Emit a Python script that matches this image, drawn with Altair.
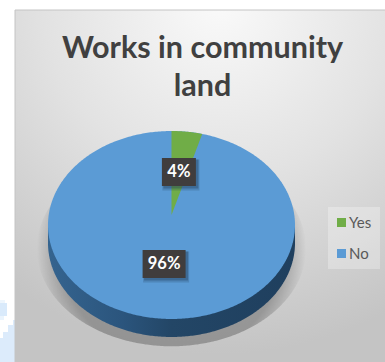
import altair as alt
import numpy as np
import pandas as pd

# Chart values
answers = ["Yes", "No"]
shares = [4, 96]
colors = ["#70ad47", "#5b9bd5"]
title_lines = ["Works in community", "land"]

W, H = 385, 362
# Pie drawn as a unit circle; the two scales squash it into a tilted ellipse.
CX, CY, RX, RY = 171.5, 225.0, 123.5, 94.0
DEPTH = 18 / RY
APEX_V = 10 / RY

x_scale = alt.Scale(domain=[-CX / RX, (W - CX) / RX], range=[0, W], nice=False, zero=False)
y_scale = alt.Scale(domain=[(CY - H) / RY, CY / RY], range=[H, 0], nice=False, zero=False)


def enc_x(field="u"):
    return alt.X(f"{field}:Q", scale=x_scale, axis=None)


def enc_y(field="top"):
    return alt.Y(f"{field}:Q", scale=y_scale, axis=None, stack=None)


t = np.linspace(np.pi, 0, 241)
rim_u = np.cos(t)
rim_v = np.sin(t)

disc = pd.DataFrame({"u": rim_u, "top": rim_v, "bottom": -rim_v, "answer": "No"})
wall = pd.DataFrame({"u": rim_u, "top": 0 * rim_v, "bottom": -rim_v - DEPTH})
halo = pd.DataFrame({
    "u": 1.09 * rim_u,
    "top": -0.25 + 1.04 * rim_v,
    "bottom": -0.25 - 1.04 * rim_v,
})

# The "Yes" slice starts at twelve o'clock and sweeps clockwise by its share.
sweep = shares[0] / sum(shares) * 2 * np.pi
a = np.linspace(0, sweep, 40)
edge_v = APEX_V + (np.cos(sweep) - APEX_V) * (np.sin(a) / np.sin(sweep))
wedge = pd.DataFrame({"u": np.sin(a), "top": np.cos(a), "bottom": edge_v, "answer": "Yes"})

color = alt.Color(
    "answer:N",
    scale=alt.Scale(domain=answers, range=colors),
    legend=alt.Legend(
        title=None, orient="none", legendX=334, legendY=215, padding=0,
        symbolType="square", symbolSize=81,
        symbolStrokeWidth=0, labelFont="Lato", labelFontSize=15, labelColor="#595959",
        labelOffset=0, rowPadding=15, symbolOpacity=1,
    ),
)

one_row = pd.DataFrame({"k": [0]})

panel = alt.Chart(one_row).mark_rect(
    fill=alt.RadialGradient(
        gradient="radial", x1=0.55, y1=0.0, r1=0, x2=0.55, y2=0.0, r2=0.95,
        stops=[
            alt.GradientStop(offset=0, color="#fafafa"),
            alt.GradientStop(offset=0.5, color="#e2e2e2"),
            alt.GradientStop(offset=1, color="#c4c4c4"),
        ],
    ),
    stroke="#c4c4c4",
    strokeWidth=1,
).encode(x=alt.value(15), x2=alt.value(W + 2), y=alt.value(10), y2=alt.value(H + 2))

legend_box = alt.Chart(one_row).mark_rect(color="#ffffff", opacity=0.28).encode(
    x=alt.value(328), x2=alt.value(380), y=alt.value(207), y2=alt.value(269)
)

# Pale corner of the page showing beside the panel
corner_blocks = [
    (0, 5, 300, 303, "#eef6fd"),
    (0, 7, 303, 316, "#d9eafb"),
    (0, 4, 316, 320, "#eaf4fd"),
    (13, 15, 320, 325, "#dcebfb"),
    (8, 15, 325, 332, "#dcebfb"),
    (3, 15, 332, 338, "#dcebfb"),
    (0, 15, 338, 362, "#dcebfb"),
]
corner = [
    alt.Chart(one_row).mark_rect(color=c).encode(
        x=alt.value(x0), x2=alt.value(x1), y=alt.value(y0), y2=alt.value(y1)
    )
    for x0, x1, y0, y1, c in corner_blocks
]

shadow = alt.Chart(halo).mark_area(
    fill=alt.RadialGradient(
        gradient="radial", x1=0.5, y1=0.5, r1=0, x2=0.5, y2=0.5, r2=0.5,
        stops=[
            alt.GradientStop(offset=0, color="rgba(80,80,80,0.42)"),
            alt.GradientStop(offset=0.82, color="rgba(80,80,80,0.42)"),
            alt.GradientStop(offset=1, color="rgba(80,80,80,0)"),
        ],
    )
).encode(x=enc_x(), y=enc_y(), y2="bottom:Q")

side = alt.Chart(wall).mark_area(
    fill=alt.LinearGradient(
        gradient="linear", x1=0, y1=0, x2=1, y2=0,
        stops=[
            alt.GradientStop(offset=0, color="#35648f"),
            alt.GradientStop(offset=0.3, color="#2b557d"),
            alt.GradientStop(offset=0.5, color="#234666"),
            alt.GradientStop(offset=1, color="#1f3f5e"),
        ],
    )
).encode(x=enc_x(), y=enc_y(), y2="bottom:Q")

face = alt.Chart(disc).mark_area().encode(x=enc_x(), y=enc_y(), y2="bottom:Q", color=color)
slice_yes = alt.Chart(wedge).mark_area().encode(x=enc_x(), y=enc_y(), y2="bottom:Q", color=color)

# Value labels: dark boxes with an offset shadow, text taken from the shares
label_spots = {"Yes": (0.06, 0.564, 34), "No": (-0.06, -0.415, 43)}
label_layers = []
for name, share in zip(answers, shares):
    u, v, box_w = label_spots[name]
    row = pd.DataFrame({"u": [u], "v": [v], "text": [f"{share}%"]})
    base = alt.Chart(row).encode(x=enc_x(), y=enc_y("v"))
    label_layers += [
        base.mark_rect(width=box_w + 3, height=31, color="#1f3a55", opacity=0.22, xOffset=2, yOffset=3),
        base.mark_rect(width=box_w + 1, height=29, color="#1f3a55", opacity=0.35, xOffset=2, yOffset=2),
        base.mark_rect(width=box_w, height=28, color="#403d3d"),
        base.mark_text(font="Lato", fontSize=16.5, fontWeight="bold", color="#ffffff", baseline="middle").encode(
            text="text:N"
        ),
    ]

chart = alt.layer(
    *corner, panel, shadow, side, face, slice_yes, legend_box, *label_layers
).properties(
    width=W,
    height=H,
    padding=0,
    autosize=alt.AutoSizeParams(type="none"),
    background="#ffffff",
    title=alt.TitleParams(
        text=title_lines, font="Lato", fontSize=30.5, fontWeight="bold", color="#404040",
        anchor="middle", frame="group", dx=10, dy=102, lineHeight=38, offset=0,
    ),
).configure_view(stroke=None)

chart.save("out.html", embed_options={"renderer": "svg", "actions": False})
